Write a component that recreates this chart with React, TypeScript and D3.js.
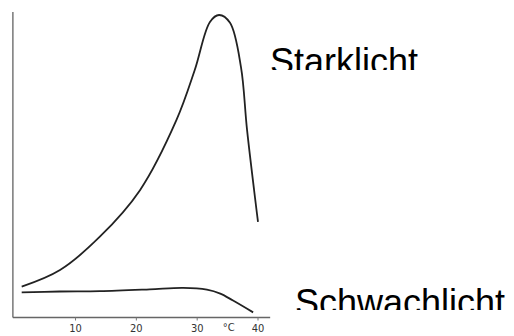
import React, { useEffect, useRef } from "react";
import * as d3 from "d3";

// temperature (°C) and relative photosynthesis
const starkTemp = [1.15, 7.45, 14.0, 20.6, 26.6, 29.6, 32.1, 33.6, 35.4, 37.2, 38.2, 40.0];
const starkValue = [10.2, 15.7, 26.7, 42.1, 65.3, 81.8, 97.7, 100, 97.4, 82.8, 62.0, 31.6];

const schwachTemp = [1.15, 7.4, 14.0, 22.2, 27.7, 31.6, 33.8, 35.9, 39.2];
const schwachValue = [8.3, 8.6, 8.7, 9.3, 9.8, 9.2, 7.9, 5.6, 1.7];

const tickValues = [10, 20, 30, 40];
const unitLabel = "°C";
const seriesLabels = ["Starklicht", "Schwachlicht"];

const W = 514;
const H = 336;

const App = () => {
  const ref = useRef<SVGSVGElement | null>(null);

  useEffect(() => {
    if (!ref.current) return;
    const svg = d3.select(ref.current);
    svg.selectAll("*").remove();

    const x = d3.scaleLinear().domain([0, 40]).range([14.7, 258]);
    const y = d3.scaleLinear().domain([0, 100]).range([317.5, 15]);

    // axes
    svg.append("line")
      .attr("x1", x(-0.3)).attr("x2", x(-0.3))
      .attr("y1", 12).attr("y2", y(0))
      .attr("stroke", "#777").attr("stroke-width", 1.5);
    svg.append("line")
      .attr("x1", x(-0.3)).attr("x2", x(42))
      .attr("y1", y(0)).attr("y2", y(0))
      .attr("stroke", "#666").attr("stroke-width", 1.5);

    const ticks = svg.append("g");
    ticks.selectAll("line")
      .data(tickValues)
      .join("line")
      .attr("x1", d => x(d)).attr("x2", d => x(d))
      .attr("y1", y(0)).attr("y2", y(0) + 3)
      .attr("stroke", "#777").attr("stroke-width", 1);
    ticks.selectAll("text")
      .data(tickValues)
      .join("text")
      .attr("x", d => x(d))
      .attr("y", 332)
      .attr("text-anchor", "middle")
      .style("font-family", "'DejaVu Sans Condensed', 'Liberation Sans', sans-serif")
      .style("font-size", "11px")
      .attr("fill", "#333")
      .text(d => d);
    svg.append("text")
      .attr("x", x(35.2))
      .attr("y", 331)
      .attr("text-anchor", "middle")
      .style("font-family", "'DejaVu Sans Condensed', 'Liberation Sans', sans-serif")
      .style("font-size", "11px")
      .attr("fill", "#333")
      .text(unitLabel);

    const line = d3.line<[number, number]>()
      .x(d => x(d[0]))
      .y(d => y(d[1]))
      .curve(d3.curveCatmullRom.alpha(0.5));

    const stark = starkTemp.map((t, i) => [t, starkValue[i]] as [number, number]);
    const schwach = schwachTemp.map((t, i) => [t, schwachValue[i]] as [number, number]);

    [stark, schwach].forEach(s => {
      svg.append("path")
        .datum(s)
        .attr("fill", "none")
        .attr("stroke", "#222")
        .attr("stroke-width", 1.8)
        .attr("d", line);
    });

    // labels, cut off at the bottom like the scan
    const defs = svg.append("defs");
    const labelSpec = [
      { text: seriesLabels[0], x: 270, y: 74, clip: 70 },
      { text: seriesLabels[1], x: 295, y: 315, clip: 310 },
    ];
    labelSpec.forEach((l, i) => {
      defs.append("clipPath").attr("id", "lab" + i)
        .append("rect")
        .attr("x", 0).attr("y", 0).attr("width", W).attr("height", l.clip);
      svg.append("text")
        .attr("x", l.x)
        .attr("y", l.y)
        .attr("clip-path", `url(#lab${i})`)
        .style("font-family", "'Liberation Sans', Arial, sans-serif")
        .style("font-size", "36px")
        .attr("fill", "#000")
        .text(l.text);
    });
  }, []);

  return (
    <svg
      ref={ref}
      width={W}
      height={H}
      style={{ position: "absolute", left: 0, top: 0, background: "#fff" }}
    />
  );
};

export default App;
